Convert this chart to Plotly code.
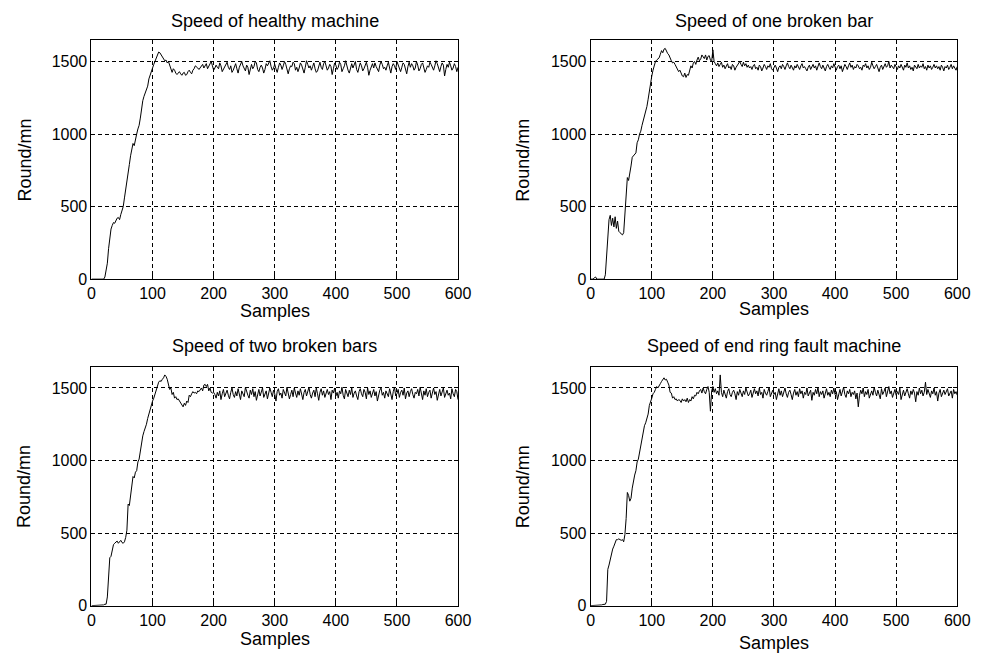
import plotly.graph_objects as go

# ---------------- data ----------------
SAMPLES = list(range(0, 601, 2))

TITLES = ["Speed of healthy machine", "Speed of one broken bar",
          "Speed of two broken bars", "Speed of end ring fault machine"]
X_LABEL = "Samples"
Y_LABEL = "Round/mn"
X_TICKS = [0, 100, 200, 300, 400, 500, 600]
Y_TICKS = [0, 500, 1000, 1500]

healthy = [
    0, 0, 0, 0, 0, 0, 0, 0, 0, 0,
    0, 15, 60, 110, 210, 300, 345, 370, 390, 385,
    405, 420, 425, 410, 445, 470, 500, 560, 610, 680,
    730, 790, 850, 900, 935, 920, 975, 1000, 1035, 1060,
    1110, 1180, 1230, 1260, 1280, 1300, 1330, 1380, 1410, 1430,
    1455, 1480, 1500, 1520, 1535, 1565, 1560, 1545, 1530, 1520,
    1505, 1510, 1490, 1500, 1475, 1455, 1425, 1450, 1440, 1420,
    1410, 1420, 1430, 1415, 1405, 1420, 1425, 1405, 1410, 1430,
    1440, 1425, 1415, 1440, 1450, 1470, 1465, 1455, 1445, 1460,
    1470, 1480, 1455, 1470, 1485, 1450, 1465, 1490, 1500, 1470,
    1440,
    1455, 1475, 1460, 1450, 1490, 1470, 1430, 1445, 1465, 1480,
    1495, 1460, 1445, 1470, 1425, 1440, 1465, 1485, 1450, 1420,
    1460, 1480, 1500, 1470, 1455, 1435, 1475, 1460, 1410, 1440,
    1480, 1450, 1465, 1500, 1490, 1445, 1430, 1460, 1475, 1455,
    1420, 1445, 1485, 1470, 1490, 1505, 1465, 1440, 1455, 1480,
    1450, 1425, 1460, 1490, 1475, 1445, 1470, 1500, 1480, 1435,
    1415, 1450, 1470, 1465, 1495, 1485, 1440, 1460, 1430, 1455,
    1490, 1475, 1445, 1420, 1460, 1505, 1480, 1455, 1470, 1440,
    1465, 1490, 1450, 1425, 1435, 1470, 1495, 1460, 1445, 1485,
    1500, 1470, 1440, 1455, 1480, 1465, 1410, 1450, 1490, 1475,
    1445, 1460, 1495, 1480, 1430, 1450, 1470, 1505, 1460, 1440,
    1420, 1465, 1485, 1455, 1475, 1500, 1445, 1425, 1460, 1490,
    1470, 1435, 1450, 1480, 1495, 1460, 1405, 1440, 1470, 1485,
    1455, 1490, 1465, 1445, 1430, 1475, 1500, 1480, 1450, 1460,
    1440, 1470, 1495, 1455, 1420, 1465, 1485, 1470, 1445, 1500,
    1475, 1450, 1430, 1460, 1490, 1480, 1445, 1415, 1465, 1495,
    1460, 1485, 1470, 1440, 1455, 1500, 1475, 1435, 1450, 1480,
    1490, 1465, 1425, 1445, 1470, 1460, 1495, 1480, 1455, 1440,
    1470, 1505, 1485, 1450, 1430, 1465, 1490, 1475, 1400, 1445,
    1480, 1460, 1495, 1470, 1440, 1455, 1485, 1465, 1430, 1460,
]

one_broken_bar = [
    0, 0, 0, 10, 15, 0, 0, 0, 0, 0,
    0, 0, 30, 150, 320, 410, 440, 370, 420, 360,
    430, 350, 400, 330, 320, 310, 305, 320, 470, 640,
    700, 680, 720, 780, 840, 850, 855, 870, 940, 960,
    1000, 1020, 1060, 1090, 1130, 1160, 1190, 1240, 1300, 1350,
    1400, 1440, 1470, 1500, 1510, 1520, 1525, 1550, 1575, 1560,
    1585, 1590, 1570, 1555, 1545, 1520, 1505, 1490, 1495, 1480,
    1460, 1450, 1430, 1440, 1415, 1400, 1395, 1420, 1390, 1410,
    1405, 1440, 1470, 1455, 1490, 1500, 1480, 1510, 1530, 1505,
    1515, 1545, 1530, 1520, 1545, 1510, 1535, 1540, 1510, 1500,
    1580,
    1500, 1485, 1470, 1490, 1465, 1480, 1495, 1460, 1475, 1450,
    1470, 1485, 1455, 1465, 1445, 1480, 1470, 1440, 1460, 1475,
    1490, 1500, 1480, 1465, 1495, 1470, 1485, 1460, 1475, 1455,
    1465, 1445, 1470, 1480, 1450, 1460, 1440, 1475, 1465, 1435,
    1455, 1480, 1465, 1445, 1470, 1460, 1485, 1450, 1440, 1465,
    1475, 1455, 1430, 1460, 1470, 1450, 1480, 1465, 1445, 1470,
    1490, 1465, 1450, 1475, 1460, 1440, 1470, 1455, 1480, 1460,
    1445, 1470, 1485, 1455, 1465, 1450, 1435, 1460, 1475, 1445,
    1465, 1480, 1455, 1470, 1440, 1460, 1490, 1465, 1450, 1475,
    1455, 1435, 1465, 1480, 1460, 1445, 1470, 1455, 1485, 1460,
    1440, 1465, 1475, 1450, 1470, 1430, 1455, 1480, 1465, 1445,
    1470, 1490, 1460, 1475, 1445, 1465, 1455, 1480, 1470, 1450,
    1460, 1440, 1475, 1465, 1485, 1455, 1470, 1445, 1460, 1495,
    1470, 1450, 1465, 1480, 1455, 1430, 1460, 1475, 1445, 1465,
    1485, 1460, 1470, 1500, 1455, 1475, 1465, 1450, 1480, 1460,
    1445, 1470, 1455, 1480, 1465, 1440, 1475, 1460, 1490, 1455,
    1470, 1445, 1460, 1435, 1475, 1465, 1450, 1480, 1455, 1470,
    1460, 1485, 1450, 1465, 1440, 1475, 1455, 1470, 1445, 1460,
    1480, 1455, 1470, 1450, 1465, 1440, 1475, 1460, 1435, 1465,
    1455, 1475, 1445, 1460, 1480, 1450, 1470, 1455, 1440, 1465,
]

two_broken_bars = [
    0, 0, 0, 0, 0, 0, 0, 0, 5, 5,
    5, 10, 10, 60, 200, 330, 340, 380, 420, 430,
    440, 445, 430, 445, 450, 435, 430, 440, 470, 520,
    700, 690, 750, 800, 890, 880, 920, 930, 990, 1010,
    1070, 1120, 1170, 1200, 1220, 1250, 1290, 1320, 1360, 1390,
    1410, 1430, 1460, 1480, 1510, 1540, 1550, 1545, 1560, 1570,
    1590, 1580, 1560, 1530, 1490, 1500, 1455, 1470, 1430, 1440,
    1420, 1425, 1410, 1400, 1385, 1370, 1395, 1380, 1410, 1400,
    1450, 1440, 1460, 1475, 1465, 1470, 1460, 1480, 1475, 1490,
    1500, 1480, 1520, 1525, 1510, 1525, 1480, 1500, 1470, 1465,
    1470,
    1455, 1430, 1470, 1445, 1480, 1420, 1460, 1490, 1440, 1465,
    1485, 1450, 1425, 1470, 1500, 1455, 1435, 1475, 1445, 1495,
    1460, 1420, 1480, 1465, 1440, 1505, 1470, 1450, 1430, 1485,
    1455, 1495, 1440, 1475, 1415, 1460, 1490, 1445, 1470, 1500,
    1435, 1465, 1480, 1425, 1455, 1500, 1470, 1440, 1485, 1460,
    1410, 1475, 1495, 1450, 1465, 1430, 1490, 1460, 1445, 1505,
    1470, 1425, 1455, 1485, 1440, 1500, 1465, 1435, 1480, 1450,
    1495, 1460, 1420, 1470, 1490, 1445, 1475, 1505, 1455, 1430,
    1465, 1485, 1440, 1500, 1460, 1415, 1470, 1495, 1450, 1480,
    1435, 1460, 1490, 1455, 1475, 1420, 1485, 1465, 1500, 1445,
    1470, 1430, 1480, 1460, 1505, 1450, 1425, 1490, 1470, 1440,
    1485, 1455, 1500, 1435, 1465, 1480, 1445, 1420, 1475, 1495,
    1460, 1440, 1490, 1470, 1425, 1500, 1455, 1480, 1435, 1465,
    1490, 1445, 1475, 1410, 1460, 1485, 1500, 1450, 1470, 1430,
    1480, 1465, 1440, 1495, 1455, 1420, 1475, 1505, 1445, 1460,
    1490, 1435, 1470, 1485, 1450, 1500, 1425, 1465, 1480, 1440,
    1475, 1495, 1455, 1430, 1470, 1460, 1490, 1445, 1505, 1465,
    1420, 1480, 1450, 1495, 1440, 1470, 1485, 1430, 1460, 1500,
    1455, 1475, 1415, 1465, 1490, 1445, 1480, 1500, 1435, 1470,
    1485, 1450, 1465, 1425, 1495, 1460, 1440, 1490, 1475, 1420,
]

end_ring_fault = [
    0, 0, 0, 0, 0, 0, 0, 0, 0, 5,
    8, 10, 10, 30, 250, 280, 320, 340, 390, 410,
    440, 455, 455, 460, 455, 450, 455, 440, 490, 600,
    780, 760, 720, 740, 810, 870, 900, 930, 990, 1010,
    1060, 1090, 1150, 1180, 1240, 1260, 1290, 1320, 1380, 1400,
    1430, 1460, 1470, 1490, 1510, 1500, 1520, 1530, 1545, 1560,
    1570, 1555, 1560, 1540, 1520, 1470, 1465, 1430, 1440, 1420,
    1425, 1410, 1420, 1415, 1400, 1425, 1410, 1420, 1405, 1430,
    1400, 1420, 1410, 1440, 1425, 1450, 1445, 1470, 1460, 1480,
    1490, 1465, 1500, 1475, 1460, 1490, 1510, 1470, 1340, 1480,
    1510,
    1470, 1495, 1460, 1480, 1450, 1590, 1470, 1440, 1485, 1460,
    1430, 1475, 1495, 1455, 1440, 1470, 1485, 1460, 1420, 1475,
    1450, 1490, 1465, 1440, 1480, 1455, 1500, 1470, 1445, 1460,
    1485, 1435, 1470, 1495, 1460, 1480, 1445, 1500, 1455, 1470,
    1430, 1490, 1465, 1450, 1475, 1505, 1440, 1460, 1485, 1455,
    1470, 1420, 1465, 1495, 1450, 1480, 1440, 1475, 1500, 1460,
    1435, 1470, 1485, 1455, 1420, 1465, 1490, 1450, 1475, 1440,
    1495, 1460, 1480, 1430, 1470, 1455, 1500, 1445, 1465, 1485,
    1415, 1470, 1450, 1490, 1460, 1505, 1440, 1475, 1455, 1480,
    1430, 1465, 1495, 1450, 1470, 1440, 1485, 1460, 1500, 1455,
    1475, 1420, 1460, 1490, 1445, 1470, 1505, 1455, 1435, 1480,
    1460, 1490, 1440, 1470, 1455, 1480, 1425, 1465, 1370, 1450,
    1485, 1460, 1500, 1440, 1475, 1455, 1490, 1430, 1465, 1480,
    1450, 1505, 1470, 1445, 1485, 1460, 1425, 1495, 1455, 1475,
    1500, 1440, 1470, 1510, 1460, 1480, 1435, 1465, 1490, 1450,
    1475, 1455, 1500, 1420, 1465, 1485, 1445, 1470, 1495, 1460,
    1430, 1480, 1455, 1490, 1465, 1405, 1475, 1450, 1500, 1460,
    1485, 1445, 1470, 1540, 1455, 1490, 1465, 1435, 1480, 1460,
    1500, 1450, 1475, 1410, 1465, 1490, 1440, 1470, 1485, 1455,
    1470, 1495, 1445, 1465, 1480, 1430, 1490, 1460, 1475, 1450,
]

SERIES = [healthy, one_broken_bar, two_broken_bars, end_ring_fault]

# ---------------- layout helpers ----------------
W, H = 985, 662
FONT = "Liberation Sans, Arial, sans-serif"

def px_x(p):
    return p / W

def px_y(p):
    return 1 - p / H

# axis boxes in pixels: (left, right, top, bottom)
BOXES = [(89, 462, 41, 283), (597, 970, 41, 283),
         (89, 462, 372, 614), (597, 970, 372, 614)]
TITLE_Y = [21, 21, 351, 351]
XLAB_Y = [315, 313, 648, 652]
YLAB_X = [21, 528, 21, 528]

fig = go.Figure()
annotations = []
for i, (ys, box) in enumerate(zip(SERIES, BOXES)):
    n = i + 1
    xa = "x" if n == 1 else f"x{n}"
    ya = "y" if n == 1 else f"y{n}"
    fig.add_trace(go.Scatter(x=SAMPLES, y=ys, mode="lines",
                             line=dict(color="black", width=1),
                             xaxis=xa, yaxis=ya, showlegend=False))
    l, r, t, b = box
    axis_common = dict(showline=True, linecolor="black", linewidth=1, mirror="ticks",
                       ticks="inside", ticklen=4, tickcolor="black",
                       showgrid=True, gridcolor="black", gridwidth=1, griddash="4px,3px",
                       zeroline=False, tickfont=dict(family=FONT, size=16, color="black"))
    fig.layout[f"xaxis{'' if n == 1 else n}"] = dict(
        domain=[px_x(l), px_x(r)], range=[0, 600], tickvals=X_TICKS,
        anchor=ya, **axis_common)
    fig.layout[f"yaxis{'' if n == 1 else n}"] = dict(
        domain=[px_y(b), px_y(t)], range=[0, 1645], tickvals=Y_TICKS,
        anchor=xa, **axis_common)
    cx = (l + r) / 2
    annotations.append(dict(text=TITLES[i], x=px_x(cx), y=px_y(TITLE_Y[i]),
                            xref="paper", yref="paper", showarrow=False,
                            xanchor="center", yanchor="middle",
                            font=dict(family=FONT, size=18, color="black")))
    annotations.append(dict(text=X_LABEL, x=px_x(cx), y=px_y(XLAB_Y[i]),
                            xref="paper", yref="paper", showarrow=False,
                            xanchor="center", yanchor="middle",
                            font=dict(family=FONT, size=18, color="black")))
    annotations.append(dict(text=Y_LABEL, x=px_x(YLAB_X[i]), y=px_y((t + b) / 2),
                            xref="paper", yref="paper", showarrow=False, textangle=-90,
                            xanchor="center", yanchor="middle",
                            font=dict(family=FONT, size=18, color="black")))

fig.update_layout(autosize=True, margin=dict(l=0, r=0, t=0, b=0),
                  paper_bgcolor="white", plot_bgcolor="white",
                  annotations=annotations, showlegend=False)

POST = ("document.documentElement.style.margin='0';"
        "document.documentElement.style.overflow='hidden';"
        "document.body.style.margin='0';"
        "document.body.style.overflow='hidden';"
        "var gd=document.getElementById('{plot_id}');"
        "gd.style.width='100vw';gd.style.height='100vh';"
        "Plotly.Plots.resize(gd);")

fig.write_html("out.html",
               config={"displayModeBar": False, "responsive": True},
               default_width="100vw", default_height="100vh",
               post_script=POST)
